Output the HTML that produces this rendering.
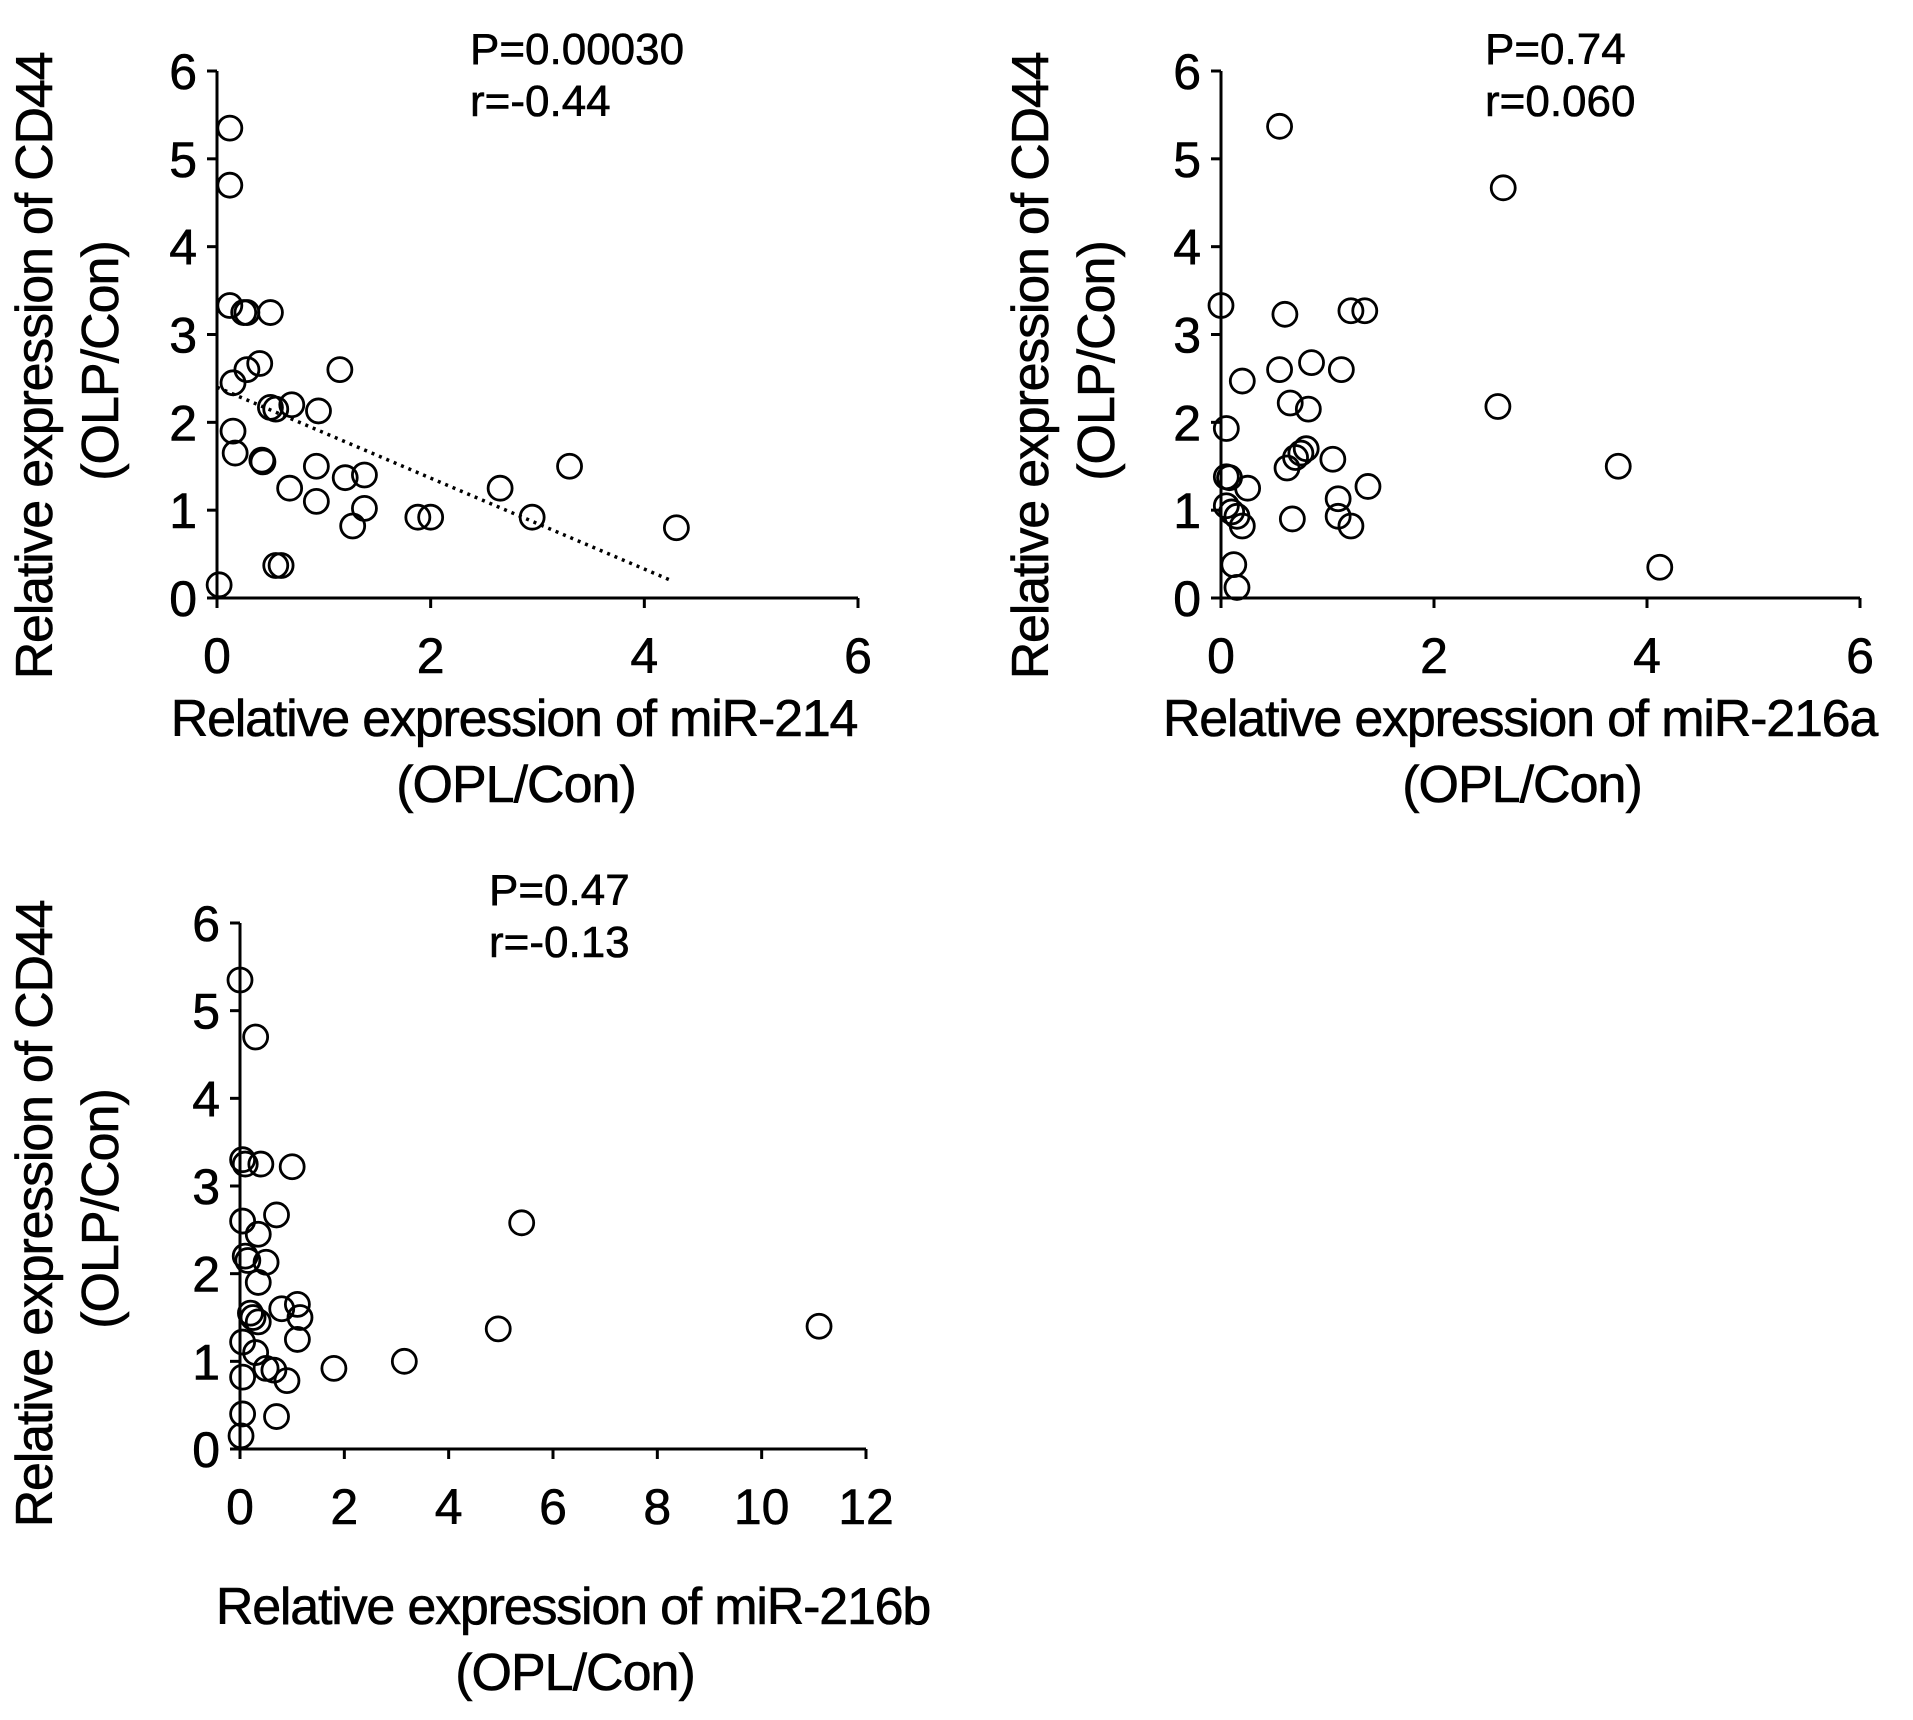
<!DOCTYPE html>
<html><head><meta charset="utf-8"><style>
body{margin:0;background:#fff}
svg text{font-family:"Liberation Sans",Arial,sans-serif;fill:#000;stroke:#000;stroke-width:0.6}
</style></head><body>
<svg id="fig" width="1913" height="1715" viewBox="0 0 1913 1715" xmlns="http://www.w3.org/2000/svg"></svg>
<script>
const p1x=[0.02,0.12,0.12,0.12,0.25,0.28,0.5,0.15,0.28,0.4,0.15,0.17,0.5,0.55,0.7,0.95,0.42,0.43,1.15,0.93,0.68,0.93,1.2,1.38,1.38,1.27,1.88,2.0,2.65,2.95,3.3,4.3,0.55,0.6];
const p1y=[0.15,5.35,4.7,3.33,3.25,3.25,3.25,2.45,2.6,2.67,1.9,1.65,2.17,2.15,2.2,2.13,1.57,1.55,2.6,1.5,1.25,1.1,1.37,1.4,1.02,0.82,0.92,0.92,1.25,0.92,1.5,0.8,0.37,0.37];
const p1trend=[[0,2.4],[4.25,0.2]];
const p2x=[0.0,0.55,2.65,0.05,0.2,0.6,1.22,1.35,0.55,0.85,1.13,0.65,0.82,2.6,0.8,0.75,0.7,0.62,1.05,3.73,0.05,0.08,0.25,1.38,0.05,0.1,0.15,0.2,0.67,1.1,1.1,1.22,0.12,0.15,4.12];
const p2y=[3.33,5.37,4.67,1.93,2.47,3.23,3.27,3.27,2.6,2.68,2.6,2.22,2.15,2.18,1.7,1.65,1.6,1.48,1.58,1.5,1.38,1.37,1.25,1.27,1.05,0.98,0.93,0.82,0.9,1.13,0.93,0.82,0.38,0.12,0.35];
const p3x=[0.0,0.3,0.05,0.1,0.4,1.0,0.05,0.7,5.4,0.35,0.1,0.15,0.5,0.35,0.2,0.25,0.35,0.8,1.1,1.15,1.1,4.95,11.1,0.05,0.3,0.5,0.65,1.8,3.15,0.9,0.05,0.05,0.7,0.02];
const p3y=[5.35,4.7,3.3,3.25,3.25,3.22,2.6,2.67,2.58,2.45,2.2,2.15,2.13,1.9,1.55,1.5,1.45,1.6,1.65,1.5,1.25,1.37,1.4,1.22,1.1,0.92,0.9,0.92,1.0,0.78,0.82,0.4,0.37,0.15];
const yTicks=[0,1,2,3,4,5,6];
const xTicks6=[0,2,4,6];
const xTicks12=[0,2,4,6,8,10,12];
const NS="http://www.w3.org/2000/svg";
const svg=document.getElementById('fig');
function mk(tag,attrs,parent){const e=document.createElementNS(NS,tag);for(const k in attrs)e.setAttribute(k,attrs[k]);(parent||svg).appendChild(e);return e;}
function txt(s,x,y,size,anchor,parent,rot,ls){const t=mk('text',{x:x,y:y,'font-size':size,'text-anchor':anchor||'middle'},parent);if(ls)t.setAttribute('letter-spacing',ls);if(rot)t.setAttribute('transform','rotate(-90 '+x+' '+y+')');t.textContent=s;return t;}
function panel(cfg){
  const g=mk('g',{});
  
  
  const sx=v=>cfg.x0+(v-cfg.xmin)/(cfg.xmax-cfg.xmin)*(cfg.x1-cfg.x0);
  const sy=v=>cfg.y0-(v/6)*(cfg.y0-cfg.y1);
  const ax=mk('line',{x1:cfg.x0-10,y1:cfg.y0,x2:cfg.x1,y2:cfg.y0,stroke:'#000','stroke-width':3},g);
  
  
  const ay=mk('line',{x1:cfg.x0,y1:cfg.y1,x2:cfg.x0,y2:cfg.y0+10,stroke:'#000','stroke-width':3},g);
  
  
  yTicks.forEach(v=>{mk('line',{x1:cfg.x0-10,y1:sy(v),x2:cfg.x0,y2:sy(v),stroke:'#000','stroke-width':3},g);
    const t=txt(String(v),cfg.x0-20,sy(v)+18,50,'end',g);
    
    });
  cfg.xt.forEach(v=>{mk('line',{x1:sx(v),y1:cfg.y0,x2:sx(v),y2:cfg.y0+10,stroke:'#000','stroke-width':3},g);
    const t=txt(String(v),sx(v),cfg.y0+75,50,'middle',g);
    
    });
  if(cfg.trend){const l=mk('line',{x1:sx(cfg.trend[0][0]),y1:sy(cfg.trend[0][1]),x2:sx(cfg.trend[1][0]),y2:sy(cfg.trend[1][1]),stroke:'#000','stroke-width':3.5,'stroke-dasharray':'3 5'},g);
    
    }
  cfg.xs.forEach((v,i)=>{const c=mk('circle',{cx:sx(v),cy:sy(cfg.ys[i]),r:12,fill:'none',stroke:'#000','stroke-width':2.8},g);
    
    });
  let t=txt(cfg.p,cfg.px,cfg.py,44,'start',g);
  t=txt(cfg.r,cfg.px,cfg.py+52,44,'start',g);
  t=txt('Relative expression of CD44',cfg.ytx,cfg.ytc,52,'middle',g,true,-1.2);
  t=txt('(OLP/Con)',cfg.ytx+66,cfg.ytc-5,52,'middle',g,true,-1);
  t=txt(cfg.xlab,cfg.xtc,cfg.xty,52,'middle',g,false,-1.2);
  t=txt('(OPL/Con)',cfg.xtc+2,cfg.xty+66,52,'middle',g,false,-1);
}
panel({name:'panel-mir-214',x0:217,x1:858,xmin:0,xmax:6,y0:598,y1:71,xt:xTicks6,xs:p1x,ys:p1y,trend:p1trend,p:'P=0.00030',r:'r=-0.44',px:470,py:64,ytx:52,ytc:366,xlab:'Relative expression of miR-214',xtc:514,xty:736});
panel({name:'panel-mir-216a',x0:1221,x1:1860,xmin:0,xmax:6,y0:598,y1:71,xt:xTicks6,xs:p2x,ys:p2y,p:'P=0.74',r:'r=0.060',px:1485,py:64,ytx:1048,ytc:366,xlab:'Relative expression of miR-216a',xtc:1520,xty:736});
panel({name:'panel-mir-216b',x0:240,x1:866,xmin:0,xmax:12,y0:1449,y1:923,xt:xTicks12,xs:p3x,ys:p3y,p:'P=0.47',r:'r=-0.13',px:489,py:905,ytx:52,ytc:1214,xlab:'Relative expression of miR-216b',xtc:573,xty:1624});
</script>
</body></html>
